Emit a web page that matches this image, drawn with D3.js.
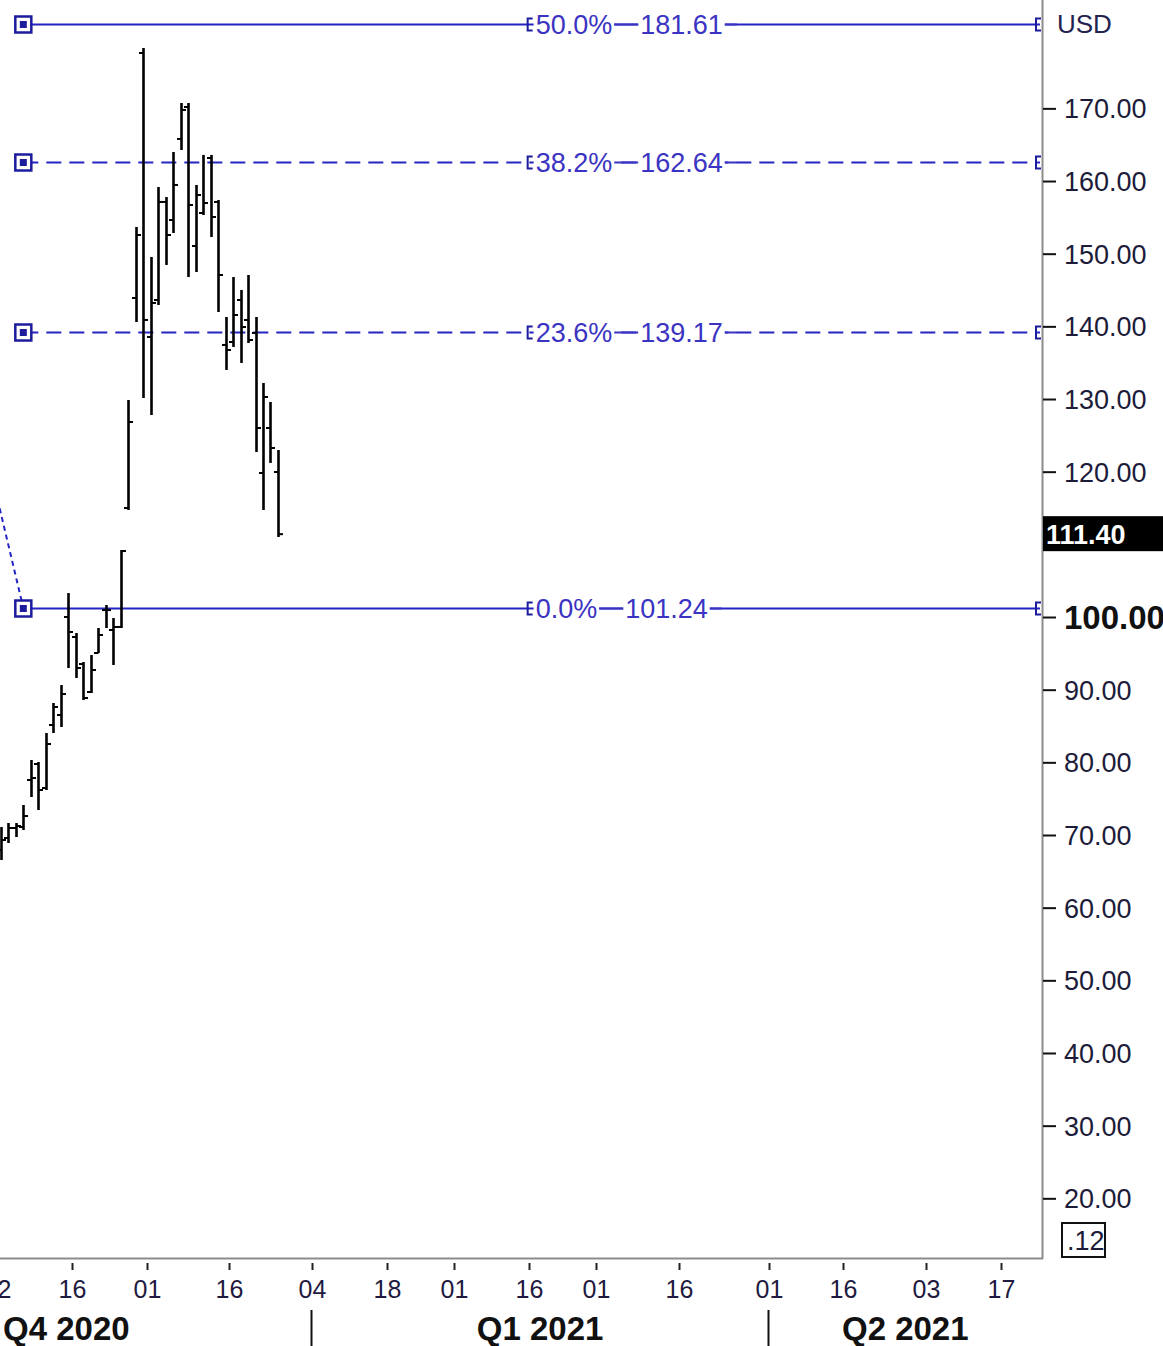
<!DOCTYPE html>
<html><head><meta charset="utf-8">
<script src="https://cdn.jsdelivr.net/npm/d3@7"></script>
<style>html,body{margin:0;padding:0;background:#fff}svg{display:block}</style>
</head><body>
<script>
// ---------- data ----------
const barDates = ["2020-11-02","2020-11-03","2020-11-04","2020-11-05","2020-11-06",
  "2020-11-09","2020-11-10","2020-11-11","2020-11-12","2020-11-13",
  "2020-11-16","2020-11-17","2020-11-18","2020-11-19","2020-11-20",
  "2020-11-23","2020-11-24","2020-11-25","2020-11-27","2020-11-30",
  "2020-12-01","2020-12-02","2020-12-03","2020-12-04",
  "2020-12-07","2020-12-08","2020-12-09","2020-12-10","2020-12-11",
  "2020-12-14","2020-12-15","2020-12-16","2020-12-17","2020-12-18",
  "2020-12-21","2020-12-22","2020-12-23","2020-12-24"];
const opens  = [67.93,69.59,70.96,71.10,77.57,79.77,76.47,85.14,86.51,100.00,97.25,93.53,89.68,95.05,100.96,98.21,98.63,115.00,143.90,177.62,138.54,143.63,157.12,154.64,165.79,170.19,151.06,155.60,163.17,157.12,137.44,137.85,143.63,140.88,139.09,119.82,126.01,119.96];
const highs  = [71.10,71.65,71.65,74.13,80.32,80.05,84.04,88.17,90.64,103.30,97.80,93.81,94.77,98.49,101.65,99.86,109.22,129.87,153.68,178.31,149.55,159.18,157.80,164.00,170.74,170.74,159.46,163.59,163.59,157.39,141.29,146.79,145.01,147.07,141.29,132.21,129.59,122.98];
const lows   = [66.56,68.90,69.72,70.69,75.23,73.44,76.19,84.04,84.86,92.98,91.61,88.58,89.54,95.05,98.49,93.40,98.49,114.73,140.60,130.14,127.80,142.94,148.45,152.85,164.27,146.79,147.48,155.33,152.30,141.98,134.00,137.16,134.96,137.71,122.71,114.73,121.20,111.01];
const closes = [69.31,70.96,71.24,72.61,77.84,76.19,82.52,87.62,89.40,97.94,92.98,88.85,92.71,97.52,100.96,98.63,109.08,126.84,152.57,140.88,143.22,157.12,152.57,159.46,169.78,156.70,158.08,156.98,155.05,147.07,136.75,141.56,139.91,138.12,126.01,130.28,123.26,111.40];

const holidays = ["2020-09-07","2020-11-26","2020-12-25","2021-01-01","2021-01-18","2021-02-15","2021-04-02","2021-05-31"];
const tickDates  = ["2020-11-02","2020-11-16","2020-12-01","2020-12-16","2021-01-04","2021-01-18","2021-02-01","2021-02-16","2021-03-01","2021-03-16","2021-04-01","2021-04-16","2021-05-03","2021-05-17"];
const tickLabels = ["02","16","01","16","04","18","01","16","01","16","01","16","03","17"];
const quarterLabels = ["Q4 2020","Q1 2021","Q2 2021"];
const quarterStarts = ["2020-10-01","2021-01-04","2021-04-01"];
const quarterEnds   = ["2021-01-04","2021-04-01","2021-07-01"];
const priceTicks = [20,30,40,50,60,70,80,90,100,110,120,130,140,150,160,170];
const fibLabels = ["0.0%","23.6%","38.2%","50.0%"];
const fibValues = [101.24,139.17,162.64,181.61];
const fibDashed = [false,true,true,false];
const fibLowDate = "2020-11-05", fibLowPrice = 101.24;
const fibHighDate = "2020-09-15", fibHighPrice = 261.98;
const lastPrice = 111.40;
const currency = "USD";
const scaleTag = ".12";
const firstVisible = "2020-11-02", lastVisible = "2021-05-24";

// ---------- layout ----------
const W = 1163, H = 1346, plotR = 1042, plotB = 1258;
const svg = d3.select("body").append("svg").attr("width", W).attr("height", H);
const FONT = "'Liberation Sans', Arial, sans-serif";

// trading days
const hol = new Set(holidays);
const fmt = d3.utcFormat("%Y-%m-%d");
const days = d3.utcDays(new Date("2020-09-01T00:00:00Z"), new Date("2021-07-10T00:00:00Z"))
  .filter(d => d.getUTCDay() !== 0 && d.getUTCDay() !== 6 && !hol.has(fmt(d))).map(fmt);
const dayIdx = s => d3.bisectLeft(days, s);

const i0 = dayIdx(firstVisible), i1 = dayIdx(lastVisible);
const x = d3.scaleLinear().domain([i0, i1]).range([-2.9, -2.9 + (i1 - i0) * 7.49]);
const y = d3.scaleLinear().domain([fibLowPrice, fibValues[3]]).range([608, 24]);

const defs = svg.append("defs");
defs.append("clipPath").attr("id", "plot").append("rect").attr("x", 0).attr("y", 0).attr("width", plotR).attr("height", plotB);
const plot = svg.append("g").attr("clip-path", "url(#plot)");

// ---------- fibonacci ----------
const LINE = "#2525c2", BOX = "#1c1c9c", TXT = "#3b33c2";
const xLow = x(dayIdx(fibLowDate) + 0.5);
const xHigh = x(dayIdx(fibHighDate) + 0.5);
plot.append("line").attr("x1", xHigh).attr("y1", y(fibHighPrice)).attr("x2", xLow).attr("y2", y(fibLowPrice))
  .attr("stroke", LINE).attr("stroke-width", 2).attr("stroke-dasharray", "5,4");

const xEnd = plotR - 2;
const xMid = (xLow + xEnd) / 2;
fibValues.forEach((v, k) => {
  const yy = Math.round(y(v)) + 0.5;
  const g = plot.append("g");
  g.append("line").attr("x1", xLow).attr("x2", xEnd).attr("y1", yy).attr("y2", yy)
    .attr("stroke", LINE).attr("stroke-width", 2)
    .attr("stroke-dasharray", fibDashed[k] ? "15,8" : null);
  const t1 = g.append("text").attr("x", xMid + 4).attr("y", yy + 9.5)
    .attr("font-family", FONT).attr("font-size", 27).attr("fill", TXT).text(fibLabels[k]);
  const w1 = t1.node().getComputedTextLength();
  const x2 = xMid + 4 + w1 + 28;
  const t2 = g.append("text").attr("x", x2).attr("y", yy + 9.5)
    .attr("font-family", FONT).attr("font-size", 27).attr("fill", TXT).text(v.toFixed(2));
  const w2 = t2.node().getComputedTextLength();
  g.insert("rect", "text").attr("x", xMid + 2).attr("y", yy - 13).attr("width", w1 + 4).attr("height", 26).attr("fill", "#fff");
  g.insert("rect", "text").attr("x", x2 - 2).attr("y", yy - 13).attr("width", w2 + 4).attr("height", 26).attr("fill", "#fff");
  // solid connector between label parts
  g.append("line").attr("x1", xMid + 6 + w1).attr("x2", x2 - 2).attr("y1", yy).attr("y2", yy)
    .attr("stroke", TXT).attr("stroke-width", 2);
  g.append("line").attr("x1", x2 + w2 + 2).attr("x2", x2 + w2 + 14).attr("y1", yy).attr("y2", yy)
    .attr("stroke", TXT).attr("stroke-width", 2);
  const br = (bx) => `M${bx + 5},${yy - 6}H${bx}V${yy + 6}H${bx + 5}`;
  g.append("path").attr("d", br(xMid - 4)).attr("fill", "none").attr("stroke", BOX).attr("stroke-width", 2);
  g.append("path").attr("d", br(xEnd - 4)).attr("fill", "none").attr("stroke", BOX).attr("stroke-width", 2);
  g.append("rect").attr("x", xLow - 8).attr("y", yy - 8).attr("width", 16).attr("height", 16)
    .attr("fill", "#fff").attr("stroke", BOX).attr("stroke-width", 2.5);
  g.append("rect").attr("x", xLow - 3.5).attr("y", yy - 3.5).attr("width", 7).attr("height", 7).attr("fill", BOX);
});

// ---------- OHLC bars ----------
const bars = barDates.map((d, i) => ({d, o: opens[i], h: highs[i], l: lows[i], c: closes[i]}));
const bg = plot.append("g").attr("stroke", "#000");
bars.forEach(b => {
  const cx = Math.round(x(dayIdx(b.d) + 0.5)) + 0.5;
  bg.append("line").attr("x1", cx).attr("x2", cx).attr("y1", y(b.h)).attr("y2", y(b.l)).attr("stroke-width", 2.6);
  bg.append("line").attr("x1", cx - 4.5).attr("x2", cx).attr("y1", y(b.o)).attr("y2", y(b.o)).attr("stroke-width", 2);
  bg.append("line").attr("x1", cx).attr("x2", cx + 4.5).attr("y1", y(b.c)).attr("y2", y(b.c)).attr("stroke-width", 2);
});

// ---------- axes frame ----------
svg.append("line").attr("x1", plotR + 0.5).attr("x2", plotR + 0.5).attr("y1", 0).attr("y2", plotB + 1)
  .attr("stroke", "#8c8c8c").attr("stroke-width", 2);
svg.append("line").attr("x1", 0).attr("x2", plotR + 1).attr("y1", plotB + 0.5).attr("y2", plotB + 0.5)
  .attr("stroke", "#8c8c8c").attr("stroke-width", 2);

// right price axis (label hidden where the last-price tag covers it)
const lpY = y(lastPrice);
const yAxisG = svg.append("g").attr("transform", `translate(${plotR + 1},0)`)
  .call(d3.axisRight(y).tickValues(priceTicks).tickSize(13).tickPadding(8)
    .tickFormat(d => Math.abs(y(d) - lpY) < 22 ? "" : d3.format(".2f")(d)));
yAxisG.select(".domain").remove();
yAxisG.selectAll(".tick line").attr("stroke", "#111").attr("stroke-width", 2);
yAxisG.selectAll(".tick text").attr("font-family", FONT).attr("font-size", 27).attr("fill", "#1c1c3a")
  .attr("dy", "0.35em")
  .filter(d => d === 100).attr("font-weight", "bold").attr("font-size", 33).attr("fill", "#111");

svg.append("text").attr("x", 1057).attr("y", 33).attr("font-family", FONT).attr("font-size", 26)
  .attr("fill", "#232350").text(currency);

// last price tag
svg.append("rect").attr("x", plotR + 1).attr("y", lpY - 18).attr("width", W - plotR).attr("height", 35).attr("fill", "#000");
svg.append("text").attr("x", plotR + 4).attr("y", lpY + 10).attr("font-family", FONT).attr("font-size", 27)
  .attr("font-weight", "bold").attr("fill", "#fff").text(lastPrice.toFixed(2));

// scale tag
svg.append("text").attr("x", 1067).attr("y", 1250).attr("font-family", FONT).attr("font-size", 27).attr("fill", "#1c1c3a").text(scaleTag);
svg.append("rect").attr("x", 1062).attr("y", 1223).attr("width", 43).attr("height", 34).attr("fill", "none").attr("stroke", "#111").attr("stroke-width", 2);

// bottom date axis
const tickIdx = tickDates.map(dayIdx);
const xg = svg.append("g");
tickIdx.forEach((ti, k) => {
  const tx = Math.round(x(ti)) + 0.5;
  xg.append("line").attr("x1", tx).attr("x2", tx).attr("y1", plotB + 5).attr("y2", plotB + 12)
    .attr("stroke", "#222").attr("stroke-width", 2);
  xg.append("text").attr("x", tx).attr("y", 1298).attr("text-anchor", "middle")
    .attr("font-family", FONT).attr("font-size", 25).attr("fill", "#1e1a40").text(tickLabels[k]);
});

// quarters
quarterLabels.forEach((q, k) => {
  const a = x(dayIdx(quarterStarts[k])), b = x(dayIdx(quarterEnds[k]));
  const va = Math.max(0, a), vb = Math.min(plotR, b);
  const t = svg.append("text").attr("y", 1340).attr("font-family", FONT).attr("font-size", 33)
    .attr("font-weight", "bold").attr("fill", "#111").text(q);
  if (a < 0) t.attr("x", 3).attr("text-anchor", "start");
  else t.attr("x", (va + vb) / 2).attr("text-anchor", "middle");
  if (k > 0) {
    const sx = Math.round(a) - 0.5;
    svg.append("line").attr("x1", sx).attr("x2", sx).attr("y1", 1310).attr("y2", H)
      .attr("stroke", "#111").attr("stroke-width", 2);
  }
});
</script>
</body></html>
